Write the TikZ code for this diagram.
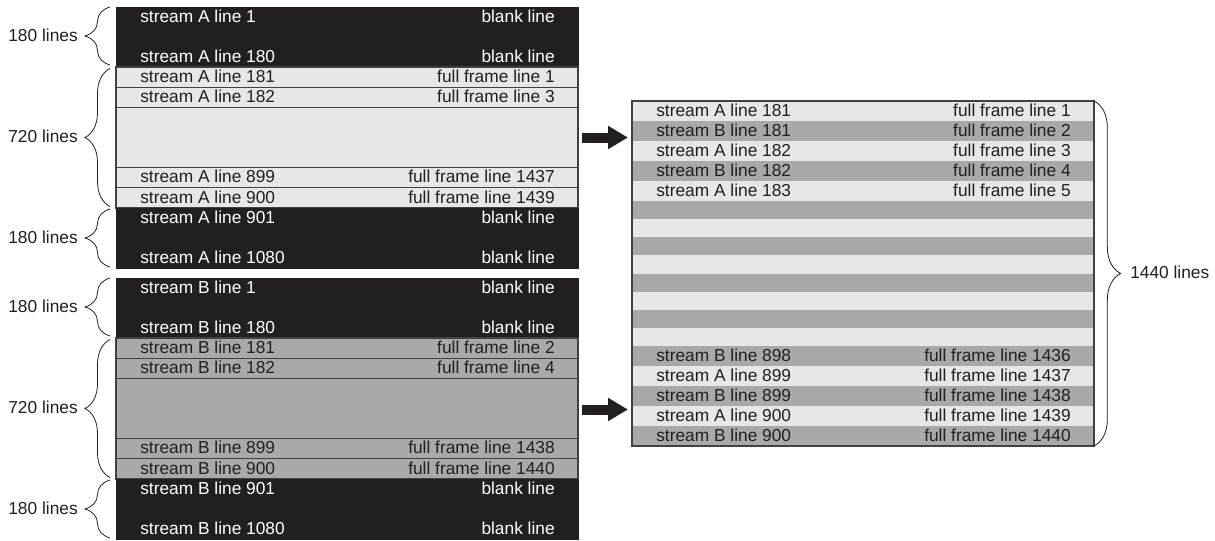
\documentclass[tikz,border=0pt]{standalone}
\usepackage{fontspec}
\setmainfont{Liberation Sans}
\usetikzlibrary{arrows.meta,decorations.pathreplacing,calc}
\definecolor{ink}{HTML}{231F20}
\definecolor{paleband}{HTML}{E6E7E8}
\definecolor{midband}{HTML}{A7A9AC}
\definecolor{rule}{HTML}{414042}

% a row with a label at each end: name, top-left corner, height, cell style, text style, left text, right text
\newcommand\tworow[7]{%
  \node[#4, cellh=#3] (#1) at (#2) {};
  \node[#5, anchor=base west] (#1l) at ($(#1.west)+(24,5.2)$) {#6};
  \node[#5, anchor=base east] (#1r) at ($(#1.east)+(-23,5.2)$) {#7};
}
% a black section of 180 blank lines: name, top-left corner, first text, last text
\newcommand\blankblock[4]{%
  \node[blankcell, cellh=60] (#1) at (#2) {};
  \node[whitetxt, anchor=base west] (#1a) at ($(#1.north west)+(24,15)$) {#3};
  \node[whitetxt, anchor=base east] (#1b) at ($(#1.north east)+(-23,15)$) {blank line};
  \node[whitetxt, anchor=base west] (#1c) at ($(#1.south west)+(24,-5)$) {#4};
  \node[whitetxt, anchor=base east] (#1d) at ($(#1.south east)+(-23,-5)$) {blank line};
}

\begin{document}
\begin{tikzpicture}[x=0.75pt, y=-0.75pt,
  font=\fontsize{13pt}{15pt}\selectfont,
  cell/.style={rectangle, anchor=north west, inner sep=0pt, outer sep=0pt, minimum width=346.5pt},
  cellh/.style={minimum height=#1*0.75pt},
  blankcell/.style={cell, fill=ink, draw=ink, line width=0.75pt},
  palerow/.style={cell, fill=paleband, draw=rule, line width=0.9pt},
  midrow/.style={cell, fill=midband, draw=rule, line width=0.9pt},
  palestripe/.style={cell, fill=paleband},
  midstripe/.style={cell, fill=midband},
  frameline/.style={cell, draw=rule, line width=1.2pt},
  inktxt/.style={inner sep=0pt, text=ink},
  whitetxt/.style={inner sep=0pt, text=white},
  lbrace/.style={draw=ink, line width=0.6pt, decorate, decoration={brace, amplitude=18.75pt}},
  rbrace/.style={draw=ink, line width=0.6pt, decorate, decoration={brace, amplitude=20pt}},
  bigarrow/.style={draw=ink, line width=7.5pt, -{Triangle[length=15pt,width=16.5pt]}},
]
\useasboundingbox (0,0) rectangle (1215,540);

% ---- stream A field ----
\blankblock{Atop}{116,7}{stream A line 1}{stream A line 180}
\tworow{Aa}{116,67}{20.25}{palerow}{inktxt}{stream A line 181}{full frame line 1}
\tworow{Ab}{116,87.25}{20.25}{palerow}{inktxt}{stream A line 182}{full frame line 3}
\node[palerow, cellh=60] (Agap) at (116,107.5) {};
\tworow{Ac}{116,167.5}{20.25}{palerow}{inktxt}{stream A line 899}{full frame line 1437}
\tworow{Ad}{116,187.75}{20.25}{palerow}{inktxt}{stream A line 900}{full frame line 1439}
\blankblock{Abot}{116,208}{stream A line 901}{stream A line 1080}

% ---- stream B field ----
\blankblock{Btop}{116,278}{stream B line 1}{stream B line 180}
\tworow{Ba}{116,338}{20.25}{midrow}{inktxt}{stream B line 181}{full frame line 2}
\tworow{Bb}{116,358.25}{20.25}{midrow}{inktxt}{stream B line 182}{full frame line 4}
\node[midrow, cellh=60] (Bgap) at (116,378.5) {};
\tworow{Bc}{116,438.5}{20.25}{midrow}{inktxt}{stream B line 899}{full frame line 1438}
\tworow{Bd}{116,458.75}{20.25}{midrow}{inktxt}{stream B line 900}{full frame line 1440}
\blankblock{Bbot}{116,479}{stream B line 901}{stream B line 1080}

% ---- braces on the left ----
\draw[lbrace] ($(Atop.south west)+(-6,-2)$) -- ($(Atop.north west)+(-6,0)$);
\draw[lbrace] ($(Ad.south west)+(-6,-1.5)$) -- ($(Aa.north west)+(-6,1.5)$);
\draw[lbrace] ($(Abot.south west)+(-6,-1)$) -- ($(Abot.north west)+(-6,1)$);
\draw[lbrace] ($(Btop.south west)+(-6,-2)$) -- ($(Btop.north west)+(-6,0)$);
\draw[lbrace] ($(Bd.south west)+(-6,-1.5)$) -- ($(Ba.north west)+(-6,1.5)$);
\draw[lbrace] ($(Bbot.south west)+(-6,-1)$) -- ($(Bbot.north west)+(-6,1)$);
\node[inktxt, anchor=base east] (cA1) at ($(Atop.west)+(-38,4)$) {180 lines};
\node[inktxt, anchor=base east] (cA2) at ($(Agap.west)+(-38,5)$) {720 lines};
\node[inktxt, anchor=base east] (cA3) at ($(Abot.west)+(-38,5)$) {180 lines};
\node[inktxt, anchor=base east] (cB1) at ($(Btop.west)+(-38,4)$) {180 lines};
\node[inktxt, anchor=base east] (cB2) at ($(Bgap.west)+(-38,5)$) {720 lines};
\node[inktxt, anchor=base east] (cB3) at ($(Bbot.west)+(-38,5)$) {180 lines};

% ---- interleaved full frame ----
\tworow{F1}{632,101}{20}{palestripe}{inktxt}{stream A line 181}{full frame line 1}
\tworow{F2}{632,121}{20}{midstripe}{inktxt}{stream B line 181}{full frame line 2}
\tworow{F3}{632,141}{20}{palestripe}{inktxt}{stream A line 182}{full frame line 3}
\tworow{F4}{632,161}{20}{midstripe}{inktxt}{stream B line 182}{full frame line 4}
\tworow{F5}{632,181}{20}{palestripe}{inktxt}{stream A line 183}{full frame line 5}
\node[midstripe, cellh=18.2]  (S1) at (632,201) {};
\node[palestripe, cellh=18.2] (S2) at (632,219.125) {};
\node[midstripe, cellh=18.2]  (S3) at (632,237.25) {};
\node[palestripe, cellh=18.2] (S4) at (632,255.375) {};
\node[midstripe, cellh=18.2]  (S5) at (632,273.5) {};
\node[palestripe, cellh=18.2] (S6) at (632,291.625) {};
\node[midstripe, cellh=18.2]  (S7) at (632,309.75) {};
\node[palestripe, cellh=18.2] (S8) at (632,327.875) {};
\tworow{F6}{632,346}{20}{midstripe}{inktxt}{stream B line 898}{full frame line 1436}
\tworow{F7}{632,366}{20}{palestripe}{inktxt}{stream A line 899}{full frame line 1437}
\tworow{F8}{632,386}{20}{midstripe}{inktxt}{stream B line 899}{full frame line 1438}
\tworow{F9}{632,406}{20}{palestripe}{inktxt}{stream A line 900}{full frame line 1439}
\tworow{F10}{632,426}{20}{midstripe}{inktxt}{stream B line 900}{full frame line 1440}
\node[frameline, cellh=345] (frame) at (632,101) {};

\draw[rbrace] (frame.north east) -- (frame.south east);
\node[inktxt, anchor=base west] (cF) at ($(frame.east)+(36,5)$) {1440 lines};

% ---- arrows from each field into the frame ----
\draw[bigarrow] ($(Agap.east)+(4,0)$) -- ($(Agap.east -| frame.west)+(-4,0)$);
\draw[bigarrow] ($(Bgap.east)+(4,1)$) -- ($(Bgap.east -| frame.west)+(-4,1)$);
\end{tikzpicture}
\end{document}
